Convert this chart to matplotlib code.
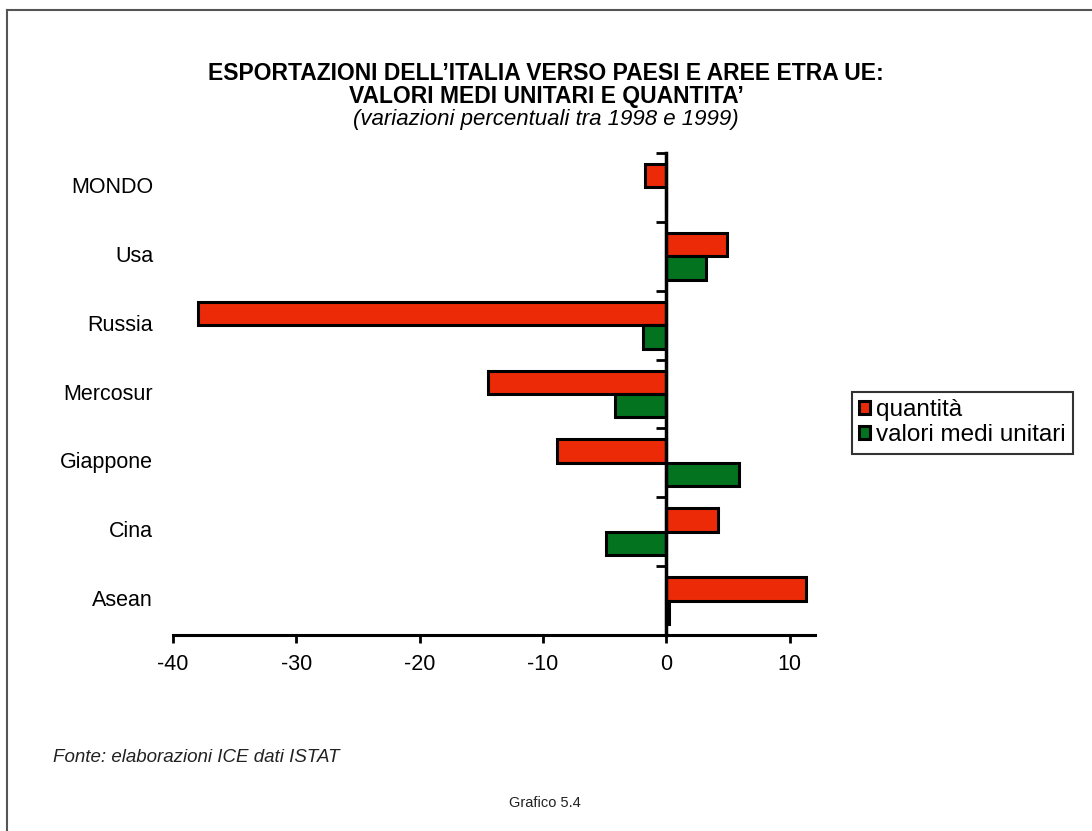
import matplotlib.pyplot as plt
from matplotlib.lines import Line2D
from matplotlib.ticker import FixedLocator

# variazioni percentuali 1998-1999
paesi = ["MONDO", "Usa", "Russia", "Mercosur", "Giappone", "Cina", "Asean"]
quantita = [-1.7, 4.9, -38.0, -14.5, -8.9, 4.2, 11.3]
valori_medi = [0.0, 3.2, -1.9, -4.2, 5.9, -4.9, 0.2]

rosso = "#EC2A08"
verde = "#03731F"

plt.rcParams["font.family"] = ["Liberation Sans", "DejaVu Sans"]
plt.rcParams["axes.unicode_minus"] = False

fig = plt.figure(figsize=(10.92, 8.31), dpi=100)
ax = fig.add_axes([173 / 1092, 1 - 635 / 831, (815 - 173) / 1092, (635 - 153) / 831])

pos = list(range(len(paesi)))
h = 0.34
ax.barh([p - h / 2 for p in pos], quantita, height=h, color=rosso,
        edgecolor="black", linewidth=2.2, label="quantità")
ax.barh([p + h / 2 for p in pos], valori_medi, height=h, color=verde,
        edgecolor="black", linewidth=2.2, label="valori medi unitari")

ax.set_xlim(-40, 12.05)
ax.set_ylim(len(paesi) - 0.5, -0.5)

for s in ["top", "right"]:
    ax.spines[s].set_visible(False)
ax.spines["left"].set_position(("data", 0))
ax.spines["left"].set_linewidth(2.5)
ax.spines["bottom"].set_linewidth(2.2)

ax.set_xticks([-40, -30, -20, -10, 0, 10])
ax.tick_params(axis="x", direction="out", length=6, width=2, labelsize=15.5, pad=8)
ax.set_yticks([])
ax.yaxis.set_minor_locator(FixedLocator([p - 0.5 for p in pos]))
ax.tick_params(axis="y", which="minor", direction="out", length=7, width=2)

for p, nome in zip(pos, paesi):
    ax.text(-0.031, p, nome, transform=ax.get_yaxis_transform(), ha="right",
            va="center", fontsize=15.5)

leg = fig.legend(loc="upper left", bbox_to_anchor=(852 / 1092, 1 - 392 / 831),
                 fontsize=17.5, frameon=True, fancybox=False, edgecolor="black",
                 handlelength=0.45, handleheight=0.45, handletextpad=0.25,
                 borderpad=0.3, labelspacing=0.12, borderaxespad=0)
leg.get_frame().set_linewidth(1.5)

fig.text(0.5, 1 - 73 / 831, "ESPORTAZIONI DELL\u2019ITALIA VERSO PAESI E AREE ETRA UE:",
         ha="center", va="center", fontsize=16.5, fontweight="bold")
fig.text(0.5, 1 - 96 / 831, "VALORI MEDI UNITARI E QUANTITA\u2019",
         ha="center", va="center", fontsize=16.5, fontweight="bold")
fig.text(0.5, 1 - 120 / 831, "(variazioni percentuali tra 1998 e 1999)",
         ha="center", va="center", fontsize=16, style="italic")
fig.text(53 / 1092, 1 - 757 / 831, "Fonte: elaborazioni ICE dati ISTAT",
         ha="left", va="center", fontsize=13.5, style="italic", color="#222222")
fig.text(545 / 1092, 1 - 803 / 831, "Grafico 5.4", ha="center", va="center",
         fontsize=10.5, color="#222222")

# cornice esterna
fig.add_artist(Line2D([7 / 1092, 7 / 1092], [0, 1 - 10 / 831], color="#555555",
                      linewidth=1.5, transform=fig.transFigure))
fig.add_artist(Line2D([7 / 1092, 1], [1 - 10 / 831, 1 - 10 / 831], color="#555555",
                      linewidth=1.5, transform=fig.transFigure))

fig.savefig("out.png", dpi=100, facecolor="white")
